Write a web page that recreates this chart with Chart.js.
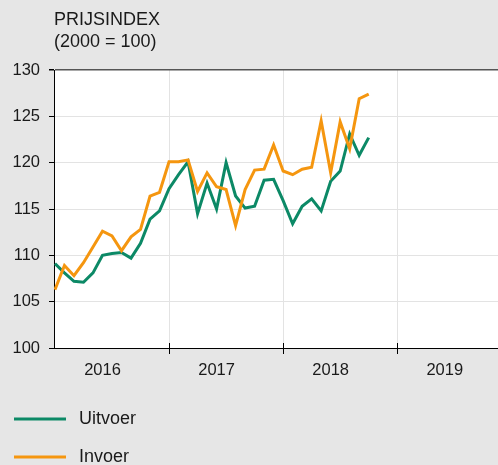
<!DOCTYPE html>
<html>
<head>
<meta charset="utf-8">
<title>Prijsindex uitvoer en invoer</title>
<script src="https://cdn.jsdelivr.net/npm/chart.js@4.4.1/dist/chart.umd.min.js"></script>
<style>
    html, body { margin: 0; padding: 0; background: #e6e6e6; }
    #wrap { width: 498px; height: 465px; position: relative; }
</style>
</head>
<body>
<div id="wrap"><canvas id="price-chart"></canvas></div>
<script>
// Monthly index values, Jan 2016 .. Oct 2018
const uitvoer = [109.1, 108.1, 107.2, 107.1, 108.1, 110.0, 110.2, 110.3, 109.7, 111.3, 113.9, 114.8,
                 117.2, 118.7, 120.1, 114.5, 117.8, 115.0, 120.0, 116.4, 115.1, 115.3, 118.1, 118.2,
                 115.9, 113.4, 115.3, 116.1, 114.8, 118.0, 119.1, 123.1, 120.8, 122.7];
const invoer  = [106.3, 108.9, 107.8, 109.2, 110.9, 112.6, 112.1, 110.5, 112.0, 112.8, 116.4, 116.8,
                 120.1, 120.1, 120.3, 116.9, 118.9, 117.4, 117.1, 113.2, 117.1, 119.2, 119.3, 121.9,
                 119.1, 118.7, 119.3, 119.5, 124.5, 118.9, 124.4, 121.5, 126.9, 127.4];
const seriesNames = ['Uitvoer', 'Invoer'];
const yearLabels = ['2016', '2017', '2018', '2019'];
const yTicks = [100, 105, 110, 115, 120, 125, 130];
const titleLines = ['PRIJSINDEX', '(2000 = 100)'];

(function() {
    'use strict';

    const FONT = '"Liberation Sans", Arial, sans-serif';
    const COLORS = ['#0c8966', '#f5960f'];

    // year boundaries sit at month 12, 24, 36; year labels sit at June of each year
    const boundaryTicks = yearLabels.slice(1).map((y, i) => (i + 1) * 12);
    const labelTicks = yearLabels.map((y, i) => i * 12 + 5);

    const toPoints = arr => arr.map((v, i) => ({ x: i, y: v }));

    // white plot area
    const plotBackground = {
        id: 'plotBackground',
        beforeDraw(chart) {
            const a = chart.chartArea;
            const ctx = chart.ctx;
            ctx.save();
            ctx.fillStyle = '#ffffff';
            ctx.fillRect(a.left, a.top, a.right - a.left, a.bottom - a.top);
            ctx.restore();
        }
    };

    // title top-left, year ticks crossing the axis, legend below the axis
    const extraText = {
        id: 'extraText',
        afterDraw(chart) {
            const ctx = chart.ctx;
            const xScale = chart.scales.x;
            const bottom = chart.chartArea.bottom;
            ctx.save();

            // the year ticks also poke a little into the plot
            ctx.strokeStyle = '#000000';
            ctx.lineWidth = 1;
            boundaryTicks.forEach(v => {
                const px = Math.round(xScale.getPixelForValue(v)) + 0.5;
                ctx.beginPath();
                ctx.moveTo(px, bottom - 5);
                ctx.lineTo(px, bottom);
                ctx.stroke();
            });

            ctx.fillStyle = '#1a1a1a';
            ctx.font = '18px ' + FONT;
            ctx.textBaseline = 'alphabetic';
            ctx.textAlign = 'left';
            ctx.fillText(titleLines[0], 54, 25);
            ctx.fillText(titleLines[1], 54, 47);

            chart.data.datasets.forEach((ds, i) => {
                const y = 419 + i * 38;
                ctx.strokeStyle = ds.borderColor;
                ctx.lineWidth = 3;
                ctx.beginPath();
                ctx.moveTo(14, y);
                ctx.lineTo(66, y);
                ctx.stroke();
                ctx.fillStyle = '#1a1a1a';
                ctx.textBaseline = 'middle';
                ctx.fillText(ds.label, 79, y);
            });
            ctx.restore();
        }
    };

    const ctx = document.getElementById('price-chart').getContext('2d');
    new Chart(ctx, {
        type: 'line',
        data: {
            datasets: [uitvoer, invoer].map((arr, i) => ({
                label: seriesNames[i],
                data: toPoints(arr),
                borderColor: COLORS[i],
                backgroundColor: COLORS[i],
                borderWidth: 3,
                pointRadius: 0,
                tension: 0,
                order: i === 0 ? 1 : 0
            }))
        },
        options: {
            responsive: true,
            maintainAspectRatio: false,
            animation: false,
            layout: { padding: { top: 70, right: 0, bottom: 0, left: 0 } },
            plugins: {
                legend: { display: false },
                tooltip: { enabled: false }
            },
            scales: {
                x: {
                    type: 'linear',
                    min: -0.1,
                    max: 46.6,
                    afterBuildTicks(axis) {
                        axis.ticks = boundaryTicks.concat(labelTicks).map(v => ({ value: v }));
                    },
                    afterFit(axis) { axis.height = 117; },
                    border: { color: '#000000', width: 1 },
                    grid: {
                        color: c => boundaryTicks.includes(c.tick && c.tick.value) ? '#e3e3e3' : 'rgba(0,0,0,0)',
                        tickColor: c => boundaryTicks.includes(c.tick && c.tick.value) ? '#000000' : 'rgba(0,0,0,0)',
                        tickLength: 6,
                        lineWidth: 1
                    },
                    ticks: {
                        autoSkip: false,
                        maxRotation: 0,
                        padding: 7,
                        color: '#1a1a1a',
                        font: { family: FONT, size: 16.5 },
                        callback: v => {
                            const idx = labelTicks.indexOf(v);
                            return idx >= 0 ? yearLabels[idx] : '';
                        }
                    }
                },
                y: {
                    min: yTicks[0],
                    max: yTicks[yTicks.length - 1],
                    afterBuildTicks(axis) {
                        axis.ticks = yTicks.map(v => ({ value: v }));
                    },
                    afterFit(axis) { axis.width = 54; },
                    border: { color: '#000000', width: 1 },
                    grid: {
                        color: c => (c.tick && c.tick.value === 130) ? '#555555' : '#e3e3e3',
                        tickColor: '#000000',
                        tickLength: 5,
                        lineWidth: c => (c.tick && c.tick.value === 130) ? 1.5 : 1
                    },
                    ticks: {
                        padding: 9,
                        color: '#1a1a1a',
                        font: { family: FONT, size: 16.5 }
                    }
                }
            }
        },
        plugins: [plotBackground, extraText]
    });
})();
</script>
</body>
</html>
